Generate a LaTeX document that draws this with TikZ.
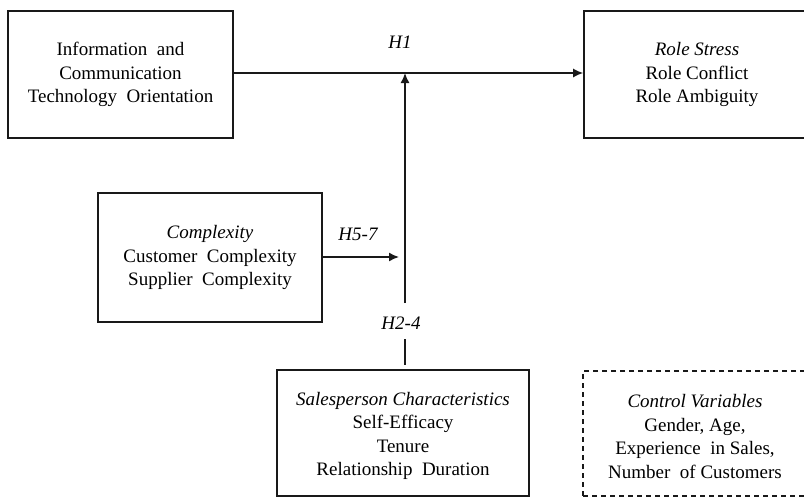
\documentclass[tikz,border=0pt]{standalone}
\usepackage{fontspec}
\setmainfont{Liberation Serif}
\usetikzlibrary{arrows.meta}
\newcommand\myfs{\fontsize{19}{23.5}\selectfont}
\begin{document}
\begin{tikzpicture}[x=1pt,y=-1pt,
  box/.style={draw=black!90,line width=1.6pt,align=center,font=\myfs,inner sep=0pt},
  dbox/.style={box,line width=1.3pt,dash pattern=on 5pt off 4pt},
  txt/.style={align=center,font=\myfs,inner sep=0pt},
  lab/.style={font=\myfs\itshape,inner sep=1pt},
  conn/.style={draw=black!90,line width=1.5pt},
  arr/.style={conn,-{Latex[length=10pt,width=9pt]}}]
\clip (0,0) rectangle (804,498);
\fill[white] (0,0) rectangle (804,498);
% boxes
\node[box,minimum width=225pt,minimum height=127pt] (L) at (120.5,74.5)
  {Information\ \ and\\Communication\\Technology\ \ Orientation};
\node[box,minimum width=226pt,minimum height=127pt] (R) at (697,74.5)
  {\textit{Role Stress}\\Role Conflict\\Role Ambiguity};
\node[box,minimum width=224pt,minimum height=129pt] (C) at (210,257.5)
  {\textit{Complexity}\\Customer\ \ Complexity\\Supplier\ \ Complexity};
\node[box,minimum width=252pt,minimum height=126pt] (S) at (403,433) {};
\node[txt] (St) at (403,436)
  {\textit{Salesperson\ Characteristics}\\Self-Efficacy\\Tenure\\Relationship\ \ Duration};
\node[dbox,minimum width=224pt,minimum height=125pt] (V) at (695,433.5) {};
\node[txt] (Vt) at (695,436.5)
  {\textit{Control\ Variables}\\Gender, Age,\\Experience\ \ in Sales,\\Number\ \ of Customers};
% coordinates
\coordinate (j) at (405,73);
\coordinate (vb) at (405,303);
\coordinate (m) at (405,257);
\coordinate (s1) at (405,339);
\coordinate (s2) at (405,365);
% labels
\node[lab] (h1) at (400,42) {H1};
\node[lab] (h57) at (358,234) {H5-7};
\node[lab] (h24) at (401,323) {H2-4};
% connectors
\draw[arr] (L.east |- j) -- (R.west |- j);
\draw[arr] (vb) -- (j);
\draw[arr,shorten >=6pt] (C.east |- m) -- (m);
\draw[conn] (s1) -- (s2);
\end{tikzpicture}
\end{document}
